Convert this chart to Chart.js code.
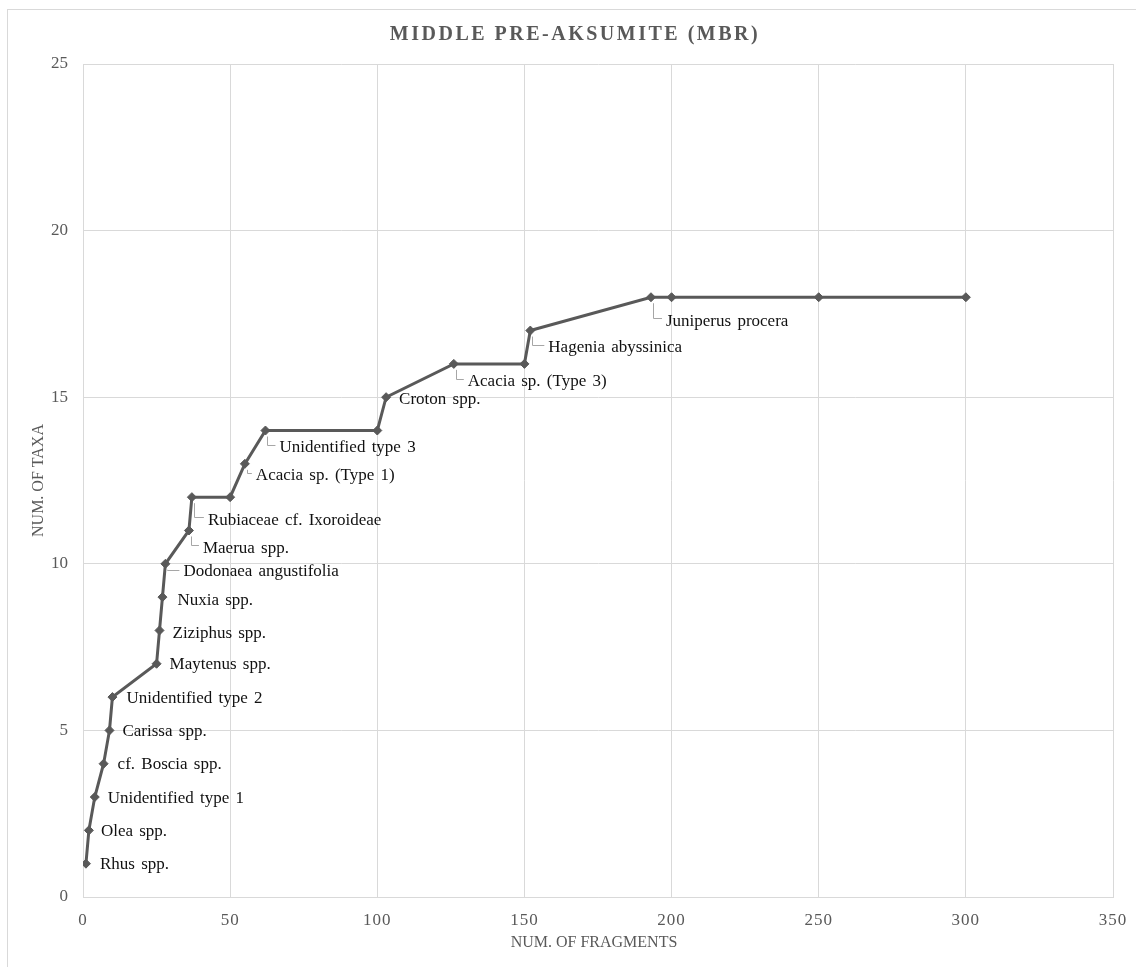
<!DOCTYPE html>
<html>
<head>
<meta charset="utf-8">
<title>Middle Pre-Aksumite (MBR)</title>
<script src="https://cdn.jsdelivr.net/npm/chart.js@4/dist/chart.umd.min.js"></script>
<style>
  html, body { margin: 0; padding: 0; background: #fff; overflow: hidden; }
  #wrap { width: 1136px; height: 967px; position: relative; }
</style>
</head>
<body>
<div id="wrap"><canvas id="chart"></canvas></div>
<script>
// Cumulative number of charcoal fragments examined vs. number of taxa identified
const fragments = [1, 2, 4, 7, 9, 10, 25, 26, 27, 28, 36, 37, 50, 55, 62, 100, 103, 126, 150, 152, 193, 200, 250, 300];
const taxa      = [1, 2, 3, 4, 5, 6, 7, 8, 9, 10, 11, 12, 12, 13, 14, 14, 15, 16, 16, 17, 18, 18, 18, 18];
const taxonNames = [
  'Rhus spp.', 'Olea spp.', 'Unidentified type 1', 'cf. Boscia spp.', 'Carissa spp.',
  'Unidentified type 2', 'Maytenus spp.', 'Ziziphus spp.', 'Nuxia spp.', 'Dodonaea angustifolia',
  'Maerua spp.', 'Rubiaceae cf. Ixoroideae', '', 'Acacia sp. (Type 1)', 'Unidentified type 3',
  '', 'Croton spp.', 'Acacia sp. (Type 3)', '', 'Hagenia abyssinica', 'Juniperus procera', '', '', ''
];
const xTicks = [0, 50, 100, 150, 200, 250, 300, 350];
const yTicks = [0, 5, 10, 15, 20, 25];

const chartTitle = 'MIDDLE PRE-AKSUMITE (MBR)';
const xTitle = 'NUM. OF FRAGMENTS';
const yTitle = 'NUM. OF TAXA';

// Label placement: [dx to text start, dy to text middle, leader line?] in pixels from the marker
const labelPlacement = [
  [14, 0, false], [12, 0, false], [13, 0, false], [14, 0, false], [13, 0, false],
  [14, 0, false], [13, 0, false], [13, 2, false], [15, 2, false], [18, 7, true],
  [14, 17, true], [16, 22, true], null, [11, 11, true], [14, 16, true],
  null, [13, 1, false], [14, 17, true], null, [18, 16, true], [15, 23, true], null, null, null
];

const GREY = '#595959';
const GRID = '#d9d9d9';
const SERIF = '"Liberation Serif", "Times New Roman", serif';

const decor = {
  id: 'decor',
  beforeDraw(chart) {
    const { ctx, width, height } = chart;
    ctx.save();
    ctx.fillStyle = '#fff';
    ctx.fillRect(0, 0, width, height);
    ctx.strokeStyle = GRID;
    ctx.lineWidth = 1;
    ctx.strokeRect(7.5, 9.5, width + 20, height + 20);
    ctx.restore();

    // x tick labels are drawn slightly letter-spaced
    const xs = chart.scales.x;
    if (!xs._spaced) {
      const orig = xs.drawLabels;
      xs.drawLabels = function (area) {
        const c = this.ctx;
        c.save();
        c.letterSpacing = '1px';
        orig.call(this, area);
        c.restore();
      };
      xs._spaced = true;
    }
  },
  afterDraw(chart) {
    const { ctx, chartArea } = chart;
    ctx.save();

    // chart title
    ctx.fillStyle = GREY;
    ctx.font = 'bold 20px ' + SERIF;
    ctx.letterSpacing = '2.5px';
    ctx.textAlign = 'center';
    ctx.textBaseline = 'middle';
    ctx.fillText(chartTitle, 575, 35);

    // axis titles
    ctx.letterSpacing = '0px';
    ctx.font = '16px ' + SERIF;
    ctx.fillText(xTitle, (chartArea.left + chartArea.right) / 2 - 4, 943);
    ctx.save();
    ctx.translate(38.5, (chartArea.top + chartArea.bottom) / 2);
    ctx.rotate(-Math.PI / 2);
    ctx.fillText(yTitle, 0, 0);
    ctx.restore();

    // taxon labels with leader lines
    const meta = chart.getDatasetMeta(0);
    ctx.font = '17px ' + SERIF;
    ctx.wordSpacing = '2px';
    ctx.textAlign = 'left';
    ctx.textBaseline = 'middle';
    meta.data.forEach((pt, i) => {
      const name = taxonNames[i];
      const place = labelPlacement[i];
      if (!name || !place) return;
      const [dx, dy, leader] = place;
      const lx = pt.x + dx;
      const ly = pt.y + dy;
      if (leader) {
        const vx = Math.round(pt.x + 2) + 0.5;
        const y0 = pt.y + 6;
        const y1 = Math.max(y0, ly - 2);
        ctx.strokeStyle = '#a6a6a6';
        ctx.lineWidth = 1;
        ctx.beginPath();
        ctx.moveTo(vx, y0);
        ctx.lineTo(vx, Math.round(y1) + 0.5);
        ctx.lineTo(lx - 4, Math.round(y1) + 0.5);
        ctx.stroke();
      }
      ctx.fillStyle = '#111';
      ctx.fillText(name, lx, ly + 1);
    });
    ctx.restore();
  }
};

new Chart(document.getElementById('chart'), {
  type: 'scatter',
  data: {
    datasets: [{
      label: 'Taxa',
      data: fragments.map((f, i) => ({ x: f, y: taxa[i] })),
      showLine: true,
      borderColor: GREY,
      backgroundColor: GREY,
      borderWidth: 3,
      pointStyle: 'rectRot',
      pointRadius: 4.5,
      pointBorderWidth: 1,
      pointBorderColor: GREY,
      pointBackgroundColor: GREY,
      tension: 0
    }]
  },
  options: {
    responsive: true,
    maintainAspectRatio: false,
    animation: false,
    devicePixelRatio: 1,
    layout: { padding: { left: 0, right: 23, top: 64, bottom: 0 } },
    plugins: {
      legend: { display: false },
      title: { display: false },
      tooltip: { enabled: false }
    },
    scales: {
      x: {
        type: 'linear',
        min: xTicks[0],
        max: xTicks[xTicks.length - 1],
        afterBuildTicks: (s) => { s.ticks = xTicks.map(v => ({ value: v })); },
        afterFit: (s) => { s.height = 70; s.paddingLeft = 0; s.paddingRight = 0; },
        grid: { color: GRID, lineWidth: 1, drawTicks: false },
        border: { color: GRID, width: 1 },
        ticks: { color: GREY, font: { family: SERIF, size: 17 }, padding: 13, maxRotation: 0 }
      },
      y: {
        type: 'linear',
        min: yTicks[0],
        max: yTicks[yTicks.length - 1],
        afterBuildTicks: (s) => { s.ticks = yTicks.map(v => ({ value: v })); },
        afterFit: (s) => { s.width = 83; s.paddingTop = 0; s.paddingBottom = 0; },
        grid: { color: GRID, lineWidth: 1, drawTicks: false },
        border: { color: GRID, width: 1 },
        ticks: { color: GREY, font: { family: SERIF, size: 17 }, padding: 15 }
      }
    }
  },
  plugins: [decor]
});
</script>
</body>
</html>
